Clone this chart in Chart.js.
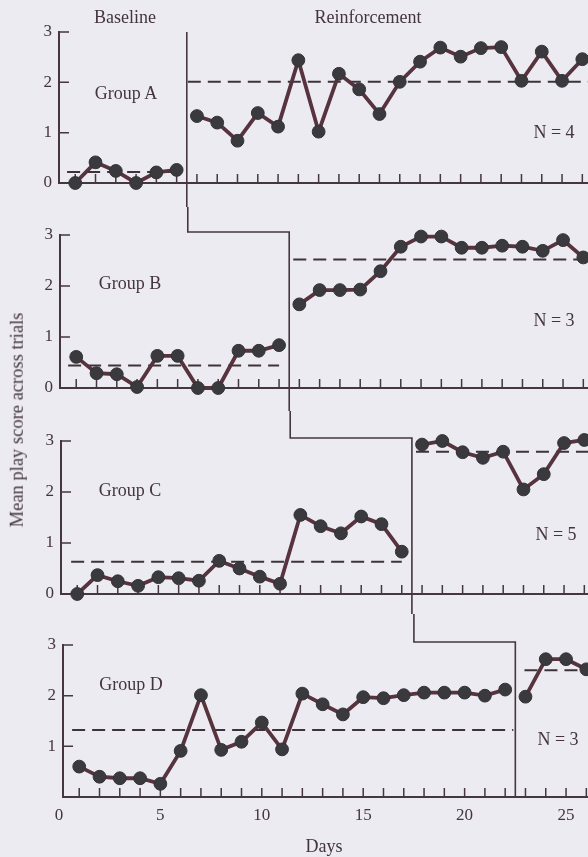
<!DOCTYPE html>
<html>
<head>
<meta charset="utf-8">
<script src="https://cdn.jsdelivr.net/npm/chart.js@4.4.1/dist/chart.umd.min.js"></script>
<style>
  body { margin: 0; background: #ecebf2; }
  #wrap { position: relative; width: 588px; height: 857px; overflow: hidden; background: #ecebf2;
          font-family: "Liberation Serif", "Times New Roman", serif; color: #44343f; }
  #wrap canvas { position: absolute; }
  .lbl { position: absolute; font-size: 18px; line-height: 1; white-space: nowrap; transform: translate(-50%, -50%); }
  .ytitle { position: absolute; font-size: 18.5px; line-height: 1; white-space: nowrap; left: 17px; top: 420px;
            transform: translate(-50%, -50%) rotate(-90deg); }
</style>
</head>
<body>
<div id="wrap">
  <canvas id="c0" width="599" height="207"></canvas>
  <canvas id="c1" width="599" height="204"></canvas>
  <canvas id="c2" width="599" height="203"></canvas>
  <canvas id="c3" width="599" height="243"></canvas>

  <div class="lbl" style="left:125px;top:17px">Baseline</div>
  <div class="lbl" style="left:368px;top:17px">Reinforcement</div>
  <div class="lbl" style="left:126px;top:93px">Group A</div>
  <div class="lbl" style="left:130px;top:283px">Group B</div>
  <div class="lbl" style="left:130px;top:490px">Group C</div>
  <div class="lbl" style="left:131px;top:684px">Group D</div>
  <div class="lbl" style="left:554px;top:132px">N = 4</div>
  <div class="lbl" style="left:554px;top:320px">N = 3</div>
  <div class="lbl" style="left:556px;top:534px">N = 5</div>
  <div class="lbl" style="left:558px;top:739px">N = 3</div>
  <div class="lbl" style="left:324px;top:846px">Days</div>
  <div class="ytitle">Mean play score across trials</div>
</div>
<script>
// days of the study
const days = [1, 2, 3, 4, 5, 6, 7, 8, 9, 10, 11, 12, 13, 14, 15, 16, 17, 18, 19, 20, 21, 22, 23, 24, 25, 26];

// mean play score per day, one array per group
const groupA = [0.0, 0.41, 0.24, 0.0, 0.21, 0.26, 1.33, 1.2, 0.84, 1.39, 1.12, 2.44, 1.02, 2.17, 1.86, 1.37, 2.01, 2.41, 2.69, 2.51, 2.68, 2.7, 2.03, 2.61, 2.03, 2.46];
const groupB = [0.61, 0.29, 0.27, 0.02, 0.63, 0.63, 0.0, 0.0, 0.73, 0.73, 0.84, 1.64, 1.92, 1.92, 1.93, 2.29, 2.77, 2.97, 2.97, 2.75, 2.75, 2.79, 2.77, 2.69, 2.9, 2.56];
const groupC = [0.0, 0.37, 0.25, 0.16, 0.33, 0.31, 0.26, 0.65, 0.5, 0.34, 0.2, 1.55, 1.33, 1.19, 1.52, 1.37, 0.83, 2.93, 3.0, 2.78, 2.67, 2.79, 2.05, 2.35, 2.96, 3.02];
const groupD = [0.6, 0.4, 0.37, 0.37, 0.26, 0.91, 2.01, 0.93, 1.09, 1.47, 0.94, 2.04, 1.83, 1.63, 1.97, 1.95, 2.01, 2.06, 2.06, 2.06, 2.0, 2.12, 1.98, 2.72, 2.72, 2.52];

const groupNames = ['Group A', 'Group B', 'Group C', 'Group D'];
// reinforcement starts between these days
const phaseChange = [6.5, 11.5, 17.5, 22.5];
// phase means (dashed lines)
const baseMean = [0.22, 0.44, 0.63, 1.32];
const treatMean = [2.01, 2.52, 2.79, 2.5];
const baseDash = [[0.6, 5.9], [0.6, 11.0], [0.7, 17.0], [0.65, 22.4]];
const treatDash = [[6.55, 26.3], [11.7, 26.3], [17.7, 26.3], [22.95, 26.3]];

const yTicks = [0, 1, 2, 3];
const xTickLabels = [0, 5, 10, 15, 20, 25];

// layout of the four stacked panels
const panelTop = [0, 207, 411, 614];
const panelShift = [-4, -3, -2, 0];
const padTop = [32, 28, 30, 31];
const axisH = [24, 23, 20, 60];

const ink = '#45363f';
const textCol = '#44343f';

const phasePlugin = {
    id: 'phase',
    beforeDatasetsDraw(chart, args, opts) {
        const ctx = chart.ctx;
        const a = chart.chartArea;
        const x = chart.scales.x, y = chart.scales.y;
        const i = opts.idx;
        ctx.save();
        ctx.strokeStyle = ink;
        ctx.lineWidth = 1.5;
        ctx.beginPath();
        days.forEach(d => {
            const px = x.getPixelForValue(d);
            ctx.moveTo(px, a.bottom);
            ctx.lineTo(px, a.bottom - 9);
        });
        yTicks.forEach(v => {
            const py = y.getPixelForValue(v);
            ctx.moveTo(a.left, py);
            ctx.lineTo(a.left + 10, py);
        });
        ctx.stroke();

        // phase change step line
        const cur = x.getPixelForValue(phaseChange[i]);
        const stepY = a.top - 3;
        ctx.lineWidth = 1.6;
        ctx.beginPath();
        if (i > 0) {
            const prev = x.getPixelForValue(phaseChange[i - 1]);
            ctx.moveTo(prev, 0);
            ctx.lineTo(prev, stepY);
            ctx.lineTo(cur, stepY);
        } else {
            ctx.moveTo(cur, a.top);
        }
        ctx.lineTo(cur, i === 3 ? a.bottom : chart.height);
        ctx.stroke();
        ctx.restore();
    }
};

function makePanel(i, values) {
    const canvas = document.getElementById('c' + i);
    canvas.style.top = panelTop[i] + 'px';
    canvas.style.left = panelShift[i] + 'px';
    const last = i === 3;

    const base = days.filter(d => d < phaseChange[i]).map(d => ({ x: d, y: values[d - 1] }));
    const treat = days.filter(d => d > phaseChange[i]).map(d => ({ x: d, y: values[d - 1] }));
    const pointStyle = {
        borderColor: '#57333d',
        borderWidth: 3.8,
        pointRadius: 6.4,
        pointBackgroundColor: '#3a393d',
        pointBorderColor: '#333236',
        pointBorderWidth: 1,
        tension: 0,
        clip: false
    };
    const dashStyle = {
        borderColor: '#3e3338',
        borderWidth: 2,
        borderDash: [13, 7],
        pointRadius: 0,
        clip: false
    };

    return new Chart(canvas, {
        type: 'line',
        data: {
            datasets: [
                Object.assign({ label: groupNames[i] + ' baseline', data: base }, pointStyle),
                Object.assign({ label: groupNames[i] + ' reinforcement', data: treat }, pointStyle),
                Object.assign({ label: 'baseline mean', data: [{ x: baseDash[i][0], y: baseMean[i] }, { x: baseDash[i][1], y: baseMean[i] }] }, dashStyle),
                Object.assign({ label: 'reinforcement mean', data: [{ x: treatDash[i][0], y: treatMean[i] }, { x: treatDash[i][1], y: treatMean[i] }] }, dashStyle)
            ]
        },
        options: {
            responsive: false,
            animation: false,
            layout: { padding: { top: padTop[i], left: 0, right: 0, bottom: 0 } },
            plugins: {
                legend: { display: false },
                tooltip: { enabled: false },
                phase: { idx: i }
            },
            scales: {
                x: {
                    type: 'linear',
                    min: 0.2,
                    max: 26.26,
                    grid: { display: true, drawOnChartArea: false, drawTicks: false },
                    border: { display: true, color: ink, width: 2 },
                    afterFit: s => { s.height = axisH[i]; },
                    afterBuildTicks: s => { s.ticks = xTickLabels.map(v => ({ value: v })); },
                    ticks: {
                        display: last,
                        autoSkip: false,
                        maxRotation: 0,
                        padding: 8,
                        color: textCol,
                        font: { family: '"Liberation Serif", serif', size: 17 }
                    }
                },
                y: {
                    min: 0,
                    max: 3,
                    grid: { display: true, drawOnChartArea: false, drawTicks: false },
                    border: { display: true, color: ink, width: 2 },
                    afterFit: s => { s.width = 63; },
                    afterBuildTicks: s => { s.ticks = yTicks.map(v => ({ value: v })); },
                    ticks: {
                        padding: 7,
                        color: textCol,
                        font: { family: '"Liberation Serif", serif', size: 17 },
                        callback: v => (last && v === 0) ? '' : v
                    }
                }
            }
        },
        plugins: [phasePlugin]
    });
}

makePanel(0, groupA);
makePanel(1, groupB);
makePanel(2, groupC);
makePanel(3, groupD);
</script>
</body>
</html>
